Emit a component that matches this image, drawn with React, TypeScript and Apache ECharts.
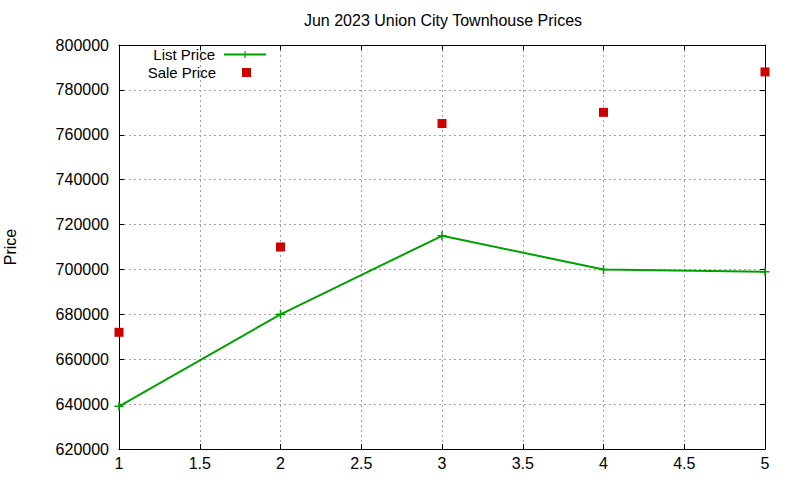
import React, { useEffect, useRef } from "react";
import * as echarts from "echarts";

const xValues = [1, 2, 3, 4, 5];
const listPrice = [639000, 680000, 715000, 700000, 699000];
const salePrice = [672000, 710000, 765000, 770000, 788000];
const titleText = "Jun 2023 Union City Townhouse Prices";
const yName = "Price";

const PLUS = "path://M4,0h1.6v4h4v1.6h-4v4h-1.6v-4h-4v-1.6h4z";
const FONT = "Liberation Sans, Arial, sans-serif";
const RED = "#cc0000";
const GREEN = "#00a000";

export default function App() {
  const ref = useRef<HTMLDivElement>(null);
  useEffect(() => {
    if (!ref.current) return;
    const chart = echarts.init(ref.current, undefined, { renderer: "svg" });
    const axisCommon = {
      axisLine: { show: true, onZero: false, lineStyle: { color: "#000", width: 1 } },
      axisTick: { show: true, inside: true, length: 5, lineStyle: { color: "#000" } },
    };
    const legendText = { fontSize: 15, lineHeight: 14, color: "#000", fontFamily: FONT };
    chart.setOption({
      animation: false,
      backgroundColor: "#fff",
      textStyle: { fontFamily: FONT },
      title: {
        text: titleText,
        left: 438,
        textAlign: "center",
        top: 7,
        textStyle: { fontSize: 16, fontWeight: "normal", color: "#000", fontFamily: FONT },
      },
      legend: [
        {
          orient: "vertical",
          right: 533,
          top: 47,
          padding: 0,
          align: "right",
          itemWidth: 42,
          itemHeight: 9,
          textStyle: { ...legendText, padding: [0, 4, 0, 0] },
          data: [{ name: "List Price" }],
        },
        {
          orient: "vertical",
          right: 549,
          top: 65,
          padding: 0,
          align: "right",
          itemWidth: 9,
          itemHeight: 9,
          textStyle: { ...legendText, padding: [0, 21, 0, 0] },
          data: [{ name: "Sale Price" }],
        },
      ],
      grid: { left: 119, right: 35, top: 45, bottom: 31, outerBoundsMode: "none", containLabel: false },
      xAxis: [
        {
          type: "value",
          min: 1,
          max: 5,
          interval: 0.5,
          ...axisCommon,
          axisLabel: { fontSize: 16, color: "#000", fontFamily: FONT, margin: 6 },
          splitLine: { show: true, lineStyle: { color: "#a0a0a0", type: [2, 3], width: 1 } },
        },
        {
          type: "value",
          position: "top",
          min: 1,
          max: 5,
          interval: 0.5,
          ...axisCommon,
          axisLabel: { show: false },
          splitLine: { show: false },
        },
      ],
      yAxis: [
        {
          type: "value",
          min: 620000,
          max: 800000,
          interval: 20000,
          name: yName,
          nameLocation: "middle",
          nameGap: 101,
          nameRotate: 90,
          nameTextStyle: { fontSize: 16, color: "#000", fontFamily: FONT },
          ...axisCommon,
          axisLabel: {
            fontSize: 16,
            color: "#000",
            fontFamily: FONT,
            margin: 10,
            formatter: (v: number) => String(v),
          },
          splitLine: { show: true, lineStyle: { color: "#a0a0a0", type: [2, 3], width: 1 } },
        },
        {
          type: "value",
          position: "right",
          min: 620000,
          max: 800000,
          interval: 20000,
          ...axisCommon,
          axisLabel: { show: false },
          splitLine: { show: false },
        },
      ],
      series: [
        {
          name: "List Price",
          type: "line",
          data: xValues.map((x, i) => [x, listPrice[i]]),
          symbol: PLUS,
          symbolSize: 9,
          showSymbol: true,
          lineStyle: { color: GREEN, width: 2 },
          itemStyle: { color: GREEN, opacity: 1 },
          z: 3,
        },
        {
          name: "Sale Price",
          type: "scatter",
          data: xValues.map((x, i) => [x, salePrice[i]]),
          symbol: "rect",
          symbolSize: 9,
          itemStyle: { color: RED, opacity: 1 },
          z: 4,
        },
      ],
    });
    return () => chart.dispose();
  }, []);
  return <div ref={ref} style={{ width: 800, height: 480, position: "absolute", left: 0, top: 0 }} />;
}
